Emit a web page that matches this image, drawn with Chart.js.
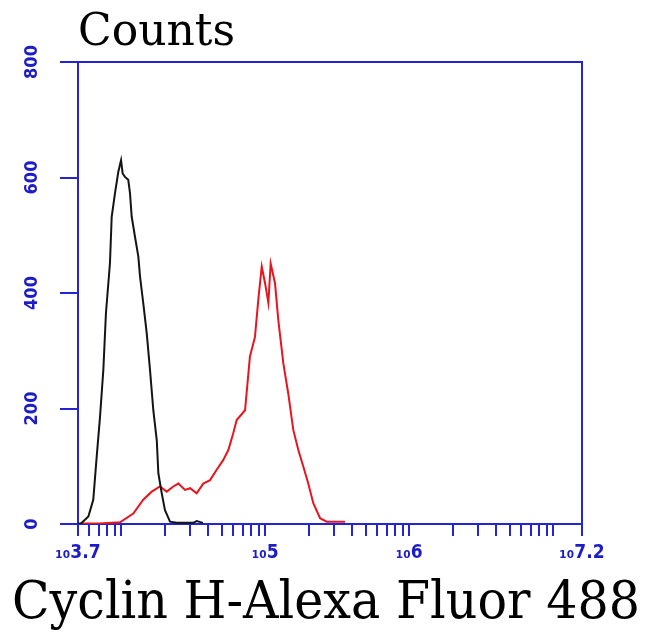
<!DOCTYPE html>
<html>
<head>
<meta charset="utf-8">
<script src="https://cdn.jsdelivr.net/npm/chart.js@4/dist/chart.umd.min.js"></script>
<style>
  body { margin: 0; background: #fff; }
  #wrap { width: 650px; height: 632px; }
</style>
</head>
<body>
<div id="wrap"><canvas id="histo" width="650" height="632"></canvas></div>
<script>
// Data (x as log10 of intensity, y as counts)
const controlLog = [3.70, 3.726, 3.772, 3.806, 3.830, 3.853, 3.876, 3.894, 3.922, 3.934, 3.957, 3.980, 3.999, 4.010,
    4.026, 4.049, 4.061, 4.073, 4.096, 4.119, 4.131, 4.153, 4.177, 4.200, 4.223, 4.247, 4.258, 4.281, 4.304, 4.339,
    4.385, 4.443, 4.50, 4.524, 4.568];
const controlCounts = [0, 2, 13, 42, 117, 186, 267, 365, 452, 532, 573, 610, 630, 607,
    601, 596, 573, 532, 497, 463, 428, 383, 331, 267, 197, 145, 88, 54, 24, 4,
    2, 2, 2, 5, 2];

const sampleLog = [3.72, 3.85, 3.992, 4.084, 4.153, 4.212, 4.269, 4.316, 4.362, 4.397, 4.443, 4.478, 4.524, 4.570,
    4.617, 4.663, 4.709, 4.744, 4.778, 4.802, 4.860, 4.894, 4.929, 4.952, 4.976, 4.999, 5.022, 5.038, 5.068,
    5.091, 5.126, 5.160, 5.195, 5.230, 5.265, 5.299, 5.334, 5.381, 5.427, 5.554];
const sampleCounts = [1, 1, 3, 18, 42, 56, 65, 56, 65, 70, 59, 62, 53, 70,
    76, 94, 111, 128, 157, 180, 197, 290, 324, 388, 446, 417, 383, 451, 417,
    353, 278, 226, 163, 128, 99, 70, 36, 10, 4, 4];

const yTicks = [0, 200, 400, 600, 800];
const xLabelExps = [3.7, 5, 6, 7.2];
const xLabelText = ['\u2081\u20803.7', '\u2081\u20805', '\u2081\u20806', '\u2081\u20807.2'];
const xAxisTitle = 'Cyclin H-Alexa Fluor 488';

const axisBlue = '#2424d4';
const labelBlue = '#1d1dc8';
const tickFont = '"DejaVu Sans Condensed", "DejaVu Sans"';

// minor/major tick positions of the log axis
const xTickValues = [Math.pow(10, 3.7)];
for (let d = 3; d <= 6; d++) {
    for (let k = 1; k <= 9; k++) {
        const v = k * Math.pow(10, d);
        if (v > Math.pow(10, 3.72) && v < Math.pow(10, 7.2)) xTickValues.push(v);
    }
}
xTickValues.push(1e7, Math.pow(10, 7.2));

function labelFor(value) {
    for (let i = 0; i < xLabelExps.length; i++) {
        if (Math.abs(Math.log10(value) - xLabelExps[i]) < 0.001) return xLabelText[i];
    }
    return '';
}

// top and right edges of the plot frame, plus the wide x-axis caption
// (the built-in scale title gets squeezed to the axis width)
const frameBox = {
    id: 'frameBox',
    afterDatasetsDraw(chart) {
        const { ctx, chartArea: a } = chart;
        ctx.save();
        ctx.strokeStyle = axisBlue;
        ctx.lineWidth = 2;
        ctx.beginPath();
        ctx.moveTo(a.left, a.top);
        ctx.lineTo(a.right, a.top);
        ctx.lineTo(a.right, a.bottom);
        ctx.stroke();
        ctx.restore();
    },
    afterDraw(chart) {
        const { ctx, chartArea: a } = chart;
        ctx.save();
        ctx.font = '52px "DejaVu Serif"';
        ctx.fillStyle = '#000';
        ctx.textAlign = 'center';
        ctx.textBaseline = 'alphabetic';
        ctx.fillText(xAxisTitle, (a.left + a.right) / 2 - 4, a.bottom + 94, 628);
        ctx.restore();
    }
};

const toPoints = (xs, ys) => xs.map((e, i) => ({ x: Math.pow(10, e), y: ys[i] }));

new Chart(document.getElementById('histo').getContext('2d'), {
    type: 'line',
    data: {
        datasets: [
            {
                label: 'Control',
                data: toPoints(controlLog, controlCounts),
                borderColor: '#141414',
                borderWidth: 2,
                pointRadius: 0,
                tension: 0,
                fill: false
            },
            {
                label: 'Cyclin H',
                data: toPoints(sampleLog, sampleCounts),
                borderColor: '#e8141e',
                borderWidth: 2,
                pointRadius: 0,
                tension: 0,
                fill: false
            }
        ]
    },
    options: {
        responsive: false,
        animation: false,
        layout: { padding: { left: 0, right: 68, top: 0, bottom: 0 } },
        plugins: {
            legend: { display: false },
            tooltip: { enabled: false },
            title: {
                display: true,
                text: 'Counts',
                align: 'start',
                fullSize: false,
                color: '#000',
                font: { family: 'DejaVu Serif', size: 44, weight: 'normal', lineHeight: 1 },
                padding: { top: 12, bottom: 6 }
            }
        },
        scales: {
            x: {
                type: 'logarithmic',
                min: Math.pow(10, 3.7),
                max: Math.pow(10, 7.2),
                afterBuildTicks: (scale) => {
                    scale.ticks = xTickValues.map(v => ({ value: v }));
                },
                afterFit: (scale) => { scale.height = 108; },
                border: { display: true, color: axisBlue, width: 2 },
                grid: { drawOnChartArea: false, drawTicks: true, tickLength: 12, color: axisBlue, lineWidth: 2 },
                ticks: {
                    autoSkip: false,
                    maxRotation: 0,
                    minRotation: 0,
                    padding: 6,
                    color: labelBlue,
                    font: { family: tickFont, size: 19, weight: 'bold' },
                    callback: (value) => labelFor(value)
                }
            },
            y: {
                min: 0,
                max: 800,
                afterBuildTicks: (scale) => {
                    scale.ticks = yTicks.map(v => ({ value: v }));
                },
                afterFit: (scale) => { scale.width = 78; },
                border: { display: true, color: axisBlue, width: 2 },
                grid: { drawOnChartArea: false, drawTicks: true, tickLength: 18, color: axisBlue, lineWidth: 2 },
                ticks: {
                    minRotation: 90,
                    maxRotation: 90,
                    crossAlign: 'center',
                    padding: 11,
                    color: labelBlue,
                    font: { family: tickFont, size: 18, weight: 'bold' }
                }
            }
        }
    },
    plugins: [frameBox]
});
</script>
</body>
</html>
